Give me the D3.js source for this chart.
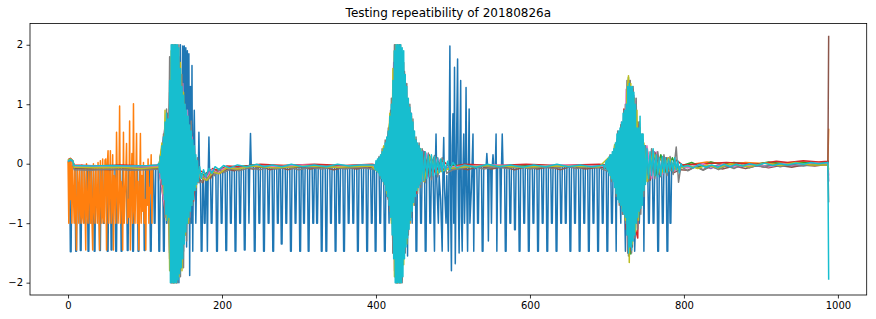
<!DOCTYPE html>
<html>
<head>
<meta charset="utf-8">
<script src="https://cdn.jsdelivr.net/npm/d3@7"></script>
<style>
  body { margin: 0; background: #fff; }
  svg { display: block; }
  text { font-family: "DejaVu Sans", sans-serif; }
</style>
</head>
<body>
<div class="repeat-plot"></div>
<script>
// values, [sample index, value]
const xTicks = [0, 200, 400, 600, 800, 1000];
const yTicks = [-2, -1, 0, 1, 2];
const chartTitle = "Testing repeatibility of 20180826a";

// run 1 (blue): dropouts to -1 / -1.5 almost everywhere
const blueRun = [
  [0,0.03],[2,0.02],[3,-1.48],[4,-1.48],[5,-0.04],
  [9,-0.05],[10,-1.47],[11,-1.47],[12,-0.05],[15,-0.05],[16,-1.46],[17,-1.46],[18,-0.05],
  [21,-0.05],[22,-1.0],[23,-1.0],[24,-0.05],[25,-0.05],[26,-1.47],[27,-1.47],[28,-0.05],
  [30,-0.05],[31,-1.0],[32,-1.0],[33,-0.05],[34,-1.47],[35,-1.47],[36,-0.05],
  [40,-0.05],[41,-1.46],[42,-1.46],[43,-0.05],[45,-0.05],[46,-1.0],[47,-1.0],[48,-0.05],
  [50,-0.05],[51,-1.47],[52,-1.47],[53,-0.05],[55,-0.05],[56,-1.45],[57,-1.45],[58,-0.05],
  [61,-0.05],[62,-1.47],[63,-1.47],[64,-0.05],[68,-0.05],[69,-1.47],[70,-1.47],[71,-0.05],
  [76,-0.05],[77,-1.46],[78,-1.46],[79,-0.05],[83,-0.05],[84,-1.47],[85,-1.47],[86,-0.05],
  [90,-0.05],[91,-1.47],[92,-1.47],[93,-0.05],[98,-0.05],[99,-1.46],[100,-1.46],[101,-0.05],
  [106,-0.05],[107,-1.47],[108,-1.47],[109,-0.05],[111,-0.05],[112,-1.0],[113,-1.0],[114,-0.05],
  [117,-0.05],[118,-1.47],[119,-1.47],[120,-0.05],[123,-0.05],[124,-1.47],[125,-1.47],
  [126,0.2],[127,0.5],[128,-1.0],[130,0.8],[132,-1.5],[134,1.6],[136,-1.7],[138,2.0],
  [140,-1.9],[142,1.8],[144,-2.0],[146,2.0],[148,-1.75],[149,1.98],[150,-1.47],[151,1.98],
  [152,-1.2],[153,1.95],[154,-1.4],[155,1.9],[156,-1.0],[157,1.85],[158,-1.88],[159,1.3],
  [160,-1.0],[161,1.65],[162,-1.47],[163,0.3],[164,0.9],[165,-0.2],[166,-1.0],[167,-0.25],
  [169,-0.3],[170,0.53],[171,-0.3],[172,-0.28],[173,-1.47],[174,-1.47],[175,-0.28],[176,-0.25],
  [177,-1.0],[178,-1.0],[179,-0.25],[180,-0.22],[181,-1.47],[182,-0.2],[183,0.45],[184,-0.2],
  [185,-0.18],[186,-1.0],[187,-1.0],[188,-0.18],
  [192,-0.15],[193,-1.47],[194,-1.47],[195,-0.15],[198,-0.13],[199,-1.0],[200,-1.0],[201,-0.12],
  [204,-0.1],[205,-1.46],[206,-1.46],[207,-0.1],[210,-0.09],[211,-1.0],[212,-1.0],[213,-0.09],
  [216,-0.08],[217,-1.47],[218,-1.47],[219,-0.08],[222,-0.07],[223,-1.0],[224,-1.0],[225,-0.07],
  [228,-0.06],[229,-1.45],[230,-1.45],[231,-0.06],[234,-0.05],[235,-1.0],[236,-0.05],[237,0.51],[238,-0.05],
  [241,-0.05],[242,-1.47],[243,-1.47],[244,-0.05],[247,-0.05],[248,-1.0],[249,-1.0],[250,-0.05],
  [253,-0.05],[254,-1.47],[255,-1.47],[256,-0.05],[259,-0.05],[260,-1.0],[261,-1.0],[262,-0.05],
  [265,-0.05],[266,-1.47],[267,-1.47],[268,-0.05],[271,-0.05],[272,-1.0],[273,-1.0],[274,-0.05],
  [276,-0.05],[277,-1.35],[278,-1.35],[279,-0.05],[282,-0.05],[283,-1.0],[284,-1.0],[285,-0.05],
  [288,-0.05],[289,-1.47],[290,-1.47],[291,-0.05],[294,-0.05],[295,-1.0],[296,-1.0],[297,-0.05],
  [300,-0.05],[301,-1.47],[302,-1.47],[303,-0.05],[305,-0.05],[306,-1.0],[307,-1.0],[308,-0.05],
  [311,-0.05],[312,-1.47],[313,-1.47],[314,-0.05],[317,-0.05],[318,-1.0],[319,-1.0],[320,-0.05],
  [322,-0.05],[323,-1.0],[324,-1.0],[325,-0.05],[328,-0.05],[329,-1.47],[330,-1.47],[331,-0.05],
  [334,-0.05],[335,-1.47],[336,-1.47],[337,-0.05],[340,-0.05],[341,-1.0],[342,-1.0],[343,-0.05],
  [346,-0.05],[347,-1.47],[348,-1.47],[349,-0.05],[351,-0.05],[352,-1.0],[353,-1.0],[354,-0.05],
  [357,-0.05],[358,-1.47],[359,-1.47],[360,-0.05],[363,-0.05],[364,-1.0],[365,-1.0],[366,-0.05],
  [369,-0.05],[370,-1.0],[371,-1.0],[372,-0.05],[375,-0.05],[376,-1.47],[377,-1.47],[378,-0.05],
  [381,-0.05],[382,-1.0],[383,-1.0],[384,-0.05],[387,-0.05],[388,-1.47],[389,-1.47],[390,-0.05],
  [393,-0.05],[394,-1.0],[395,-1.0],[396,-0.05],[398,-0.05],[399,-1.47],[400,-1.47],[401,-0.05],
  [404,-0.1],[405,-1.0],[406,-1.0],[407,-0.1],[410,-0.2],[411,-1.47],[412,-1.47],[413,-0.2],
  [416,-0.4],[417,-1.0],[418,0.5],[422,-0.8],[423,-1.47],[424,1.5],
  [428,1.8],[429,-1.0],[430,1.9],[434,1.5],[435,-1.47],[436,1.2],
  [440,0.9],[441,-1.55],[442,0.8],[446,0.5],[447,-1.0],[448,0.4],
  [451,0.2],[452,-1.47],[453,-1.47],[454,0.1],[457,-0.1],[458,-1.0],[459,-1.0],[460,-0.1],
  [463,-0.08],[464,-1.47],[465,-1.47],[466,-0.08],[469,-0.07],[470,-1.0],[471,-1.0],[472,-0.07],
  [474,-0.06],[476,-1.47],[477,-0.1],
  [478,0.5],[479,-0.3],[481,-1.0],[482,-0.2],[484,-0.6],[486,-1.47],[487,-0.1],[488,0.44],
  [489,-0.4],[491,-1.0],[492,-0.2],[494,-1.47],[495,0.2],[496,1.98],[497,-0.8],[498,-1.8],
  [499,0.3],[500,0.84],[501,-1.0],[502,1.62],[503,-1.68],[504,-0.3],[506,1.76],[507,-0.6],
  [508,-1.5],[509,0.2],[510,1.4],[511,-0.9],[512,-1.47],[513,-0.1],[514,0.5],[515,-1.0],
  [516,-0.3],[517,1.28],[518,-0.6],[519,-1.47],[520,-0.2],[521,0.92],[522,-1.0],[524,-0.4],
  [526,0.5],[527,-1.47],[528,-0.1],[530,-0.05],
  [531,-0.05],[532,-1.0],[533,-1.0],[534,-0.05],[537,-0.05],[538,-1.47],[539,-1.47],[540,-0.05],
  [543,-0.05],[544,0.17],[545,-0.05],[546,-1.3],[547,-0.05],
  [549,-0.05],[550,-1.0],[551,-0.05],[552,0.15],[553,-0.05],
  [555,-0.05],[556,0.5],[557,-1.47],[558,-0.05],
  [561,-0.05],[562,-1.0],[563,-0.05],[564,0.5],[565,-0.05],
  [567,-0.05],[568,-1.47],[569,-1.47],[570,-0.05],[573,-0.05],[574,-1.0],[575,-1.0],[576,-0.05],
  [579,-0.05],[580,-1.11],[581,-1.11],[582,-0.05],[585,-0.05],[586,-1.47],[587,-1.47],[588,-0.05],
  [591,-0.05],[592,-1.0],[593,-1.0],[594,-0.05],[597,-0.05],[598,-1.47],[599,-1.47],[600,-0.05],
  [603,-0.05],[604,-1.0],[605,-1.0],[606,-0.05],[609,-0.05],[610,-1.47],[611,-1.47],[612,-0.05],
  [615,-0.05],[616,-1.0],[617,-1.0],[618,-0.05],[621,-0.05],[622,-1.47],[623,-1.47],[624,-0.05],
  [627,-0.05],[628,-1.0],[629,-1.0],[630,-0.05],[633,-0.05],[634,-1.47],[635,-1.47],[636,-0.05],
  [639,-0.05],[640,-1.0],[641,-1.0],[642,-0.05],[645,-0.05],[646,-1.0],[647,-1.0],[648,-0.05],
  [651,-0.05],[652,-1.47],[653,-1.47],[654,-0.05],[657,-0.05],[658,-1.0],[659,-1.0],[660,-0.05],
  [663,-0.05],[664,-1.47],[665,-1.47],[666,-0.05],[669,-0.05],[670,-1.0],[671,-1.0],[672,-0.05],
  [675,-0.05],[676,-1.47],[677,-1.47],[678,-0.05],[681,-0.05],[682,-1.0],[683,-1.0],[684,-0.05],
  [687,-0.05],[688,-1.47],[689,-1.47],[690,-0.05],[693,-0.05],[694,-1.0],[695,-1.0],[696,-0.05],
  [699,-0.05],[700,-1.47],[701,-1.47],[702,-0.05],[705,-0.1],[706,-1.0],[707,-1.0],[708,-0.1],
  [711,-0.2],[712,-1.47],[713,0.3],[717,-0.4],[718,-1.0],[719,0.6],
  [723,-0.7],[724,-1.47],[725,1.0],[729,-1.3],[730,-1.0],[731,1.2],
  [735,1.1],[736,-1.47],[737,-1.0],[741,0.6],[742,-1.0],[743,-0.6],
  [747,0.4],[748,-1.47],[749,0.2],[753,-0.1],[754,-1.0],[755,-1.0],[756,-0.1],
  [759,-0.1],[760,-1.0],[761,-1.0],[762,-0.1],[765,-0.1],[766,-1.47],[767,-1.47],[768,-0.08],
  [771,-0.08],[772,-1.0],[773,-1.0],[774,-0.07],[777,-0.07],[778,-1.47],[779,-1.47],[780,-0.06],
  [781,-0.06],[782,-1.0],[783,-1.0],[784,-0.05],
  [790,-0.05],[850,-0.04],[900,-0.04],[950,-0.03],[985,-0.02],[988,0.0]
];

// run 2 (orange): noisy start, peaks up to ~1
const orangeRun = [
  [0,0.04],[1,-1.0],[2,0.05],[3,-0.6],[4,0.06],[5,-1.0],[6,-0.05],[7,-0.5],[8,-1.0],[9,-0.06],
  [10,-0.8],[11,-1.45],[12,-0.06],[13,-0.4],[14,-1.0],[15,-0.05],[16,-0.7],[17,-1.0],[18,-0.02],
  [19,-0.9],[20,-1.0],[21,-0.05],[22,-0.6],[23,-1.45],[24,0.0],[25,-0.8],[26,-1.0],[27,-0.05],
  [28,-0.5],[29,-1.0],[30,-0.04],[31,-0.9],[32,-1.45],[33,0.0],[34,-0.7],[35,-1.0],[36,-0.03],
  [37,-0.6],[38,-1.0],[39,0.02],[40,-0.8],[41,-1.45],[42,0.05],[43,-0.5],[44,-1.0],[45,0.08],
  [46,-0.9],[47,-1.0],[48,0.06],[49,0.08],[50,-1.45],[51,-0.02],[52,0.22],[53,-1.0],[54,-0.4],
  [55,0.22],[56,-1.0],[57,-0.7],[58,0.15],[59,-1.45],[60,-0.2],[61,-0.3],[62,-1.0],[63,0.53],
  [64,-0.4],[65,-1.0],[66,-0.6],[67,0.97],[68,-1.0],[69,-0.3],[70,-0.5],[71,-1.45],[72,0.53],
  [73,-1.0],[74,-0.6],[75,-0.2],[76,0.34],[77,-1.0],[78,-0.6],[79,-0.9],[80,0.72],[81,-1.45],
  [82,-0.5],[83,0.17],[84,-1.0],[85,1.01],[86,-0.8],[87,-1.0],[88,-0.3],[89,0.51],[90,-1.0],
  [91,-0.3],[92,-1.45],[93,-0.6],[94,0.51],[95,-1.0],[96,-0.2],[97,-0.8],[98,0.02],[99,-1.0],
  [100,-0.6],[101,-1.45],[102,-0.1],[103,-0.7],[104,0.08],[105,-1.0],[106,-0.4],[107,-0.5],
  [108,0.15],[109,-1.0],[110,-0.05],[112,-0.06],[120,-0.05],[126,0.3],[129,-0.7],[132,1.0],
  [135,-1.6],[138,1.8],[141,-1.8],[144,1.6],[147,-1.3],[151,0.8],[155,-0.7],[160,0.3],
  [166,-0.25],[175,-0.22],[185,-0.12],[200,-0.08],[230,-0.04],[280,-0.03],[340,-0.04],
  [398,-0.03],[405,-0.1],[410,0.2],[415,0.4],[419,-0.8],[423,1.5],[427,-1.9],[431,1.9],
  [435,-1.6],[440,1.0],[445,-0.8],[452,0.35],[460,-0.25],[475,-0.1],[520,-0.03],[600,-0.04],
  [690,-0.03],[700,-0.08],[705,0.12],[710,-0.25],[715,0.45],[720,-0.7],[724,0.9],[728,-1.3],
  [732,1.2],[736,-1.0],[741,0.6],[747,-0.4],[753,0.2],[760,-0.15],[768,0.1],[780,-0.12],
  [800,-0.03],[830,0.03],[860,-0.01],[880,0.02],[910,0.0],[950,0.03],[987,0.02],[988,0.59]
];

// runs 3-9: baseline plus the three bursts
const greenRun = [
  [0,0.06],[3,0.08],[6,0.04],[8,-0.04],[35,-0.05],[65,-0.03],[95,-0.05],[118,-0.03],
  [128,0.6],[131,-1.0],[134,1.8],[137,-2.0],[140,2.0],[143,-1.85],[146,1.4],[149,-1.4],
  [153,0.8],[157,-0.7],[162,0.3],[166,-0.3],
  [170,-0.15],[178,-0.2],[186,-0.1],[194,-0.13],[204,-0.05],[220,-0.06],[240,-0.02],[270,-0.04],
  [310,-0.02],[350,-0.04],[395,-0.02],
  [400,-0.03],[408,0.15],[412,-0.3],[415,0.4],
  [418,0.7],[421,-1.0],[424,1.9],[427,-2.0],[430,2.0],[433,-1.9],[436,1.5],[439,-1.3],
  [443,0.9],[447,-0.7],[452,0.4],[458,-0.3],
  [462,0.2],[467,-0.2],[475,0.1],[485,-0.12],[498,-0.03],
  [520,-0.02],[560,-0.04],[600,-0.02],[640,-0.04],[690,-0.02],
  [698,-0.03],[704,0.1],[708,-0.2],[712,0.35],
  [716,0.5],[719,-0.7],[722,0.85],[725,-1.0],[728,1.45],[731,-1.52],[734,1.2],[737,-1.1],
  [740,0.7],[744,-0.7],[748,0.3],[754,-0.25],
  [758,0.2],[763,-0.2],[770,0.15],[777,-0.15],[785,0.1],[792,-0.12],[798,-0.03],
  [810,0.02],[822,-0.05],[835,0.03],[850,-0.02],[865,0.02],[890,-0.02],[910,0.03],[930,0.0],
  [950,0.03],[970,0.0],[987,0.03],[988,0.02]
];

const redRun = [
  [0,0.07],[3,0.09],[6,0.05],[8,-0.02],[40,-0.04],[70,-0.02],[100,-0.04],[118,-0.02],
  [129,-0.9],[132,1.2],[135,-2.0],[138,1.95],[141,-2.0],[144,1.8],[147,-1.6],[148,1.1],
  [151,-1.2],[155,0.75],[158,-0.75],[160,0.6],[163,-0.63],[167,-0.1],
  [172,-0.12],[180,-0.18],[188,-0.08],[196,-0.12],[206,-0.04],[225,-0.05],[250,-0.01],
  [280,-0.03],[320,-0.01],[360,-0.03],[395,-0.01],
  [400,-0.02],[407,-0.2],[411,0.25],[415,-0.45],
  [419,-0.8],[422,1.2],[425,-1.9],[428,2.0],[431,-2.0],[434,1.8],[437,-1.5],[440,1.0],
  [444,-1.0],[448,0.55],[452,-0.5],
  [456,0.3],[462,-0.25],[469,0.15],[477,-0.15],[486,0.06],[496,-0.06],
  [515,-0.01],[555,-0.03],[595,-0.01],[635,-0.03],[690,-0.01],
  [698,-0.02],[703,-0.12],[708,0.2],[713,-0.4],
  [718,-0.6],[722,0.92],[725,-1.1],[728,1.2],[731,-1.45],[734,1.25],[737,-1.1],[740,-1.25],
  [742,0.6],[746,-0.55],[750,0.25],
  [754,-0.2],[760,0.22],[767,-0.18],[774,0.12],[782,-0.1],[790,0.06],[798,-0.02],
  [815,-0.01],[855,0.02],[895,-0.01],[920,0.04],[935,0.02],[955,0.05],[975,0.03],[987,0.04],[988,0.05]
];

const purpleRun = [
  [0,0.04],[3,0.06],[6,0.03],[8,-0.06],[30,-0.07],[60,-0.05],[90,-0.07],[118,-0.05],
  [127,0.7],[130,-0.95],[133,1.7],[136,-2.0],[139,2.0],[142,-1.9],[145,1.6],[148,-1.5],
  [152,0.9],[156,-0.8],[161,0.35],[165,-0.3],
  [170,-0.2],[177,-0.26],[184,-0.12],[192,-0.18],[200,-0.08],[215,-0.1],[235,-0.04],
  [260,-0.06],[300,-0.04],[340,-0.06],[380,-0.04],[396,-0.05],
  [400,-0.06],[406,0.12],[410,-0.25],[414,0.35],
  [417,0.6],[420,-0.95],[423,1.7],[426,-2.0],[429,1.95],[432,-2.0],[435,1.6],[438,-1.35],
  [442,0.95],[446,-0.75],[451,0.4],
  [456,-0.35],[461,0.22],[468,-0.22],[476,0.12],[485,-0.12],[495,-0.05],
  [510,-0.05],[550,-0.03],[590,-0.06],[630,-0.03],[690,-0.05],
  [698,-0.05],[705,0.12],[709,-0.25],[713,0.4],
  [717,0.55],[720,-0.75],[723,0.9],[726,-1.2],[729,1.35],[732,-1.4],[735,1.15],[738,-1.0],
  [741,0.65],[745,-0.6],
  [749,0.3],[755,-0.25],[762,0.2],[769,-0.18],[777,0.1],[786,-0.1],[796,-0.05],
  [805,-0.07],[820,-0.02],[835,-0.08],[845,-0.02],[860,-0.06],[885,-0.03],[905,-0.05],
  [925,-0.01],[945,-0.04],[965,-0.01],[987,-0.02],[988,-0.3]
];

const brownRun = [
  [0,0.05],[3,0.08],[6,0.05],[8,-0.08],[30,-0.09],[55,-0.1],[80,-0.08],[105,-0.09],[118,-0.08],
  [126,-0.8],[129,0.85],[132,-1.6],[135,2.0],[138,-2.0],[141,1.95],[144,-1.85],[147,1.3],
  [150,-1.3],[154,0.7],[158,-0.6],[163,0.3],[166,-0.35],
  [170,-0.25],[175,-0.32],[180,-0.15],[185,-0.25],[190,-0.12],[198,-0.16],[206,-0.09],
  [216,-0.12],[228,-0.06],[240,-0.09],[252,-0.05],[262,-0.1],[275,-0.06],[285,-0.1],
  [300,-0.05],[315,-0.09],[330,-0.05],[345,-0.1],[360,-0.06],[375,-0.09],[388,-0.05],[396,-0.07],
  [400,-0.08],[405,-0.15],[409,0.18],[413,-0.35],
  [416,-0.6],[419,0.9],[422,-1.5],[425,2.0],[428,-2.0],[431,2.0],[434,-1.95],[437,1.55],
  [440,-1.25],[444,0.9],[448,-0.6],
  [452,0.4],[457,-0.35],[463,0.2],[470,-0.22],[478,0.1],[488,-0.1],[498,-0.07],
  [505,-0.07],[520,-0.1],[535,-0.04],[550,-0.09],[565,-0.05],[580,-0.1],[595,-0.05],
  [610,-0.09],[625,-0.05],[640,-0.1],[655,-0.04],[672,-0.09],[690,-0.06],
  [698,-0.07],[703,-0.15],[707,0.15],[711,-0.35],
  [715,-0.6],[718,0.65],[721,-0.85],[724,1.0],[727,-1.5],[730,1.4],[733,-1.4],[736,1.1],
  [739,-1.0],[742,0.7],[746,-0.5],
  [750,0.3],[756,-0.28],[763,0.18],[770,-0.2],[778,0.1],[787,-0.15],[795,-0.1],
  [805,-0.11],[815,-0.05],[825,-0.1],[835,-0.04],[850,-0.09],[865,-0.04],[880,-0.08],
  [895,-0.03],[910,-0.07],[925,-0.03],[940,-0.06],[955,-0.02],[970,-0.04],[987,-0.01],[988,2.15]
];

const pinkRun = [
  [0,0.05],[3,0.07],[6,0.04],[8,-0.05],[30,-0.04],[60,-0.06],[90,-0.04],[118,-0.04],
  [128,-0.95],[131,0.8],[134,-2.0],[137,2.0],[140,-2.0],[143,1.9],[146,-1.7],[149,1.35],
  [152,-1.1],[155,0.9],[158,-0.9],[161,0.45],[165,-0.3],
  [171,-0.18],[179,-0.25],[187,-0.1],[195,-0.15],[205,-0.06],[222,-0.08],[242,-0.03],
  [270,-0.05],[305,-0.02],[345,-0.05],[385,-0.02],
  [398,-0.04],[404,0.1],[409,-0.25],[414,0.35],
  [418,-0.75],[421,1.1],[424,-1.8],[427,2.0],[430,-2.0],[433,1.9],[436,-1.6],[439,1.2],
  [442,-1.15],[446,0.85],[450,-0.5],
  [454,0.3],[459,-0.3],[465,0.18],[472,-0.2],[480,0.1],[490,-0.1],[500,-0.05],
  [515,-0.04],[555,-0.02],[595,-0.05],[635,-0.02],[690,-0.04],
  [698,-0.04],[704,-0.12],[708,0.2],[712,-0.4],
  [716,-0.6],[719,0.7],[722,-0.85],[725,1.25],[728,-1.5],[731,1.3],[734,-1.3],[737,1.05],
  [740,-0.9],[743,0.6],
  [747,-0.5],[752,0.3],[758,-0.25],[765,0.2],[772,-0.18],[780,0.1],[788,-0.12],[797,-0.05],
  [810,-0.06],[825,0.0],[840,-0.07],[850,-0.01],[870,-0.05],[890,-0.02],[910,-0.05],
  [930,0.0],[950,-0.03],[970,0.01],[987,0.0],[988,-0.2]
];

const grayRun = [
  [0,0.03],[3,0.06],[6,0.04],[8,-0.1],[30,-0.11],[55,-0.09],[80,-0.11],[105,-0.1],[118,-0.09],
  [120,0.15],[122,-0.35],[124,0.5],[126,-0.9],[128,0.92],[130,-1.0],[132,1.8],[134,-2.0],
  [136,2.0],[138,-2.0],[140,2.0],[142,-2.0],[144,2.0],[146,-1.9],[148,1.5],[150,-1.75],
  [152,1.0],[154,-1.3],[156,0.8],[158,-1.0],[160,0.72],[162,-0.7],[164,0.3],[166,-0.45],
  [168,0.1],[170,-0.32],
  [174,-0.3],[178,-0.18],[182,-0.28],[186,-0.14],[190,-0.2],[196,-0.1],[202,-0.15],
  [212,-0.08],[222,-0.12],[235,-0.07],[250,-0.1],[260,-0.06],[270,-0.09],[285,-0.06],
  [300,-0.1],[315,-0.06],[330,-0.09],[345,-0.05],[360,-0.09],[375,-0.06],[390,-0.08],
  [400,-0.1],[404,0.12],[406,-0.25],[408,0.25],[410,-0.35],[412,0.4],[414,-0.55],[416,0.6],
  [418,-0.8],[420,1.1],[422,-1.5],[424,2.0],[426,-2.0],[428,2.0],[430,-2.0],[432,2.0],
  [434,-2.0],[436,1.7],[438,-1.5],[440,1.35],[442,-1.2],[444,1.0],[446,-0.9],[448,0.75],
  [450,-0.7],[452,0.45],[454,-0.5],[456,0.35],[458,-0.4],[460,0.25],[464,-0.32],[468,0.18],
  [472,-0.27],[476,0.14],[480,-0.22],[486,0.1],[492,-0.16],[500,-0.1],
  [510,-0.08],[525,-0.04],[540,-0.09],[555,-0.05],[570,-0.08],[585,-0.04],[600,-0.09],
  [615,-0.05],[630,-0.08],[645,-0.04],[660,-0.08],[675,-0.05],[690,-0.07],
  [700,-0.12],[704,0.15],[706,-0.3],[710,0.3],[712,-0.55],[714,0.55],[716,-0.7],[718,0.65],
  [720,-0.85],[722,0.9],[724,-1.0],[726,1.4],[728,-1.55],[730,1.4],[732,-1.5],[734,1.3],
  [736,-1.25],[738,1.1],[740,-1.1],[742,0.7],[744,-0.85],[746,0.5],[748,-0.55],[750,0.3],
  [754,-0.3],[758,0.25],[762,-0.25],[766,0.2],[770,-0.22],[774,0.15],[778,-0.2],[782,0.12],
  [786,-0.18],[790,0.28],[793,-0.31],[796,-0.05],[800,-0.08],
  [805,-0.12],[815,-0.05],[825,-0.11],[835,-0.04],[845,-0.1],[855,-0.03],[865,-0.08],
  [875,-0.02],[885,-0.07],[895,-0.03],[905,-0.06],[915,-0.01],[925,-0.05],[940,-0.01],
  [955,-0.04],[970,0.0],[987,-0.02],[988,-0.65]
];

const oliveRun = [
  [0,0.06],[3,0.08],[6,0.05],[8,-0.06],[35,-0.07],[65,-0.06],[95,-0.08],[118,-0.06],
  [122,0.35],[124,-0.5],[126,0.9],[128,-0.95],[130,0.6],[132,-1.8],[134,1.9],[136,-2.0],
  [138,2.0],[140,-2.0],[142,1.9],[144,-1.9],[146,1.7],[148,-1.8],[150,1.2],[152,-1.2],
  [154,0.8],[156,-1.0],[158,0.5],[160,-0.7],[163,0.25],[166,-0.4],[170,-0.1],
  [172,-0.22],[180,-0.28],[188,-0.14],[196,-0.17],[206,-0.07],[220,-0.09],[240,-0.04],
  [270,-0.07],[310,-0.04],[350,-0.06],[394,-0.04],
  [404,-0.15],[410,0.3],[414,-0.5],[418,0.85],[420,-1.0],[422,1.6],[424,-1.9],[426,2.0],
  [428,-2.0],[430,1.9],[432,-2.0],[434,1.8],[436,-1.7],[438,1.3],[440,-1.35],[442,1.0],
  [444,-1.0],[446,0.8],[448,-0.7],[450,0.45],[454,-0.45],[458,0.25],[462,-0.3],[470,0.12],
  [480,-0.15],[495,-0.08],
  [510,-0.06],[550,-0.03],[590,-0.06],[630,-0.04],[690,-0.05],
  [702,0.1],[706,-0.25],[710,0.32],[714,-0.55],[716,0.5],[720,-0.75],[722,0.8],[724,-0.95],
  [726,1.2],[728,1.48],[729,-1.66],[731,1.35],[733,-1.35],[735,1.1],[737,-1.15],[739,0.9],
  [741,-0.95],[743,0.6],[745,-0.6],[748,0.35],[752,-0.3],[760,0.2],[770,-0.18],[780,0.1],
  [790,-0.1],
  [805,-0.03],[818,-0.08],[830,-0.02],[845,-0.07],[860,0.0],[885,-0.05],[905,0.01],
  [925,-0.03],[945,0.02],[965,-0.02],[987,-0.02],[988,-0.1]
];

// run 10 (cyan), drawn last, covers most of the bursts
const cyanBase = [
  [0,0.04],[3,0.07],[6,0.05],[8,-0.03],[30,-0.04],[55,-0.03],[80,-0.04],[105,-0.03],[116,-0.02],
  [171,-0.05],[173,-0.25],[176,-0.1],[179,-0.22],[183,-0.08],[187,-0.16],[191,-0.05],[196,-0.1],
  [202,-0.03],[210,-0.07],[220,-0.02],[232,-0.05],[245,-0.01],[255,-0.05],[265,-0.02],
  [278,-0.05],[290,-0.01],[305,-0.05],[320,-0.02],[335,-0.05],[350,-0.01],[365,-0.04],
  [380,-0.02],[396,-0.02],
  [515,-0.02],[530,-0.06],[545,-0.01],[560,-0.05],[575,-0.02],[590,-0.06],[605,-0.02],
  [620,-0.05],[635,-0.01],[650,-0.05],[665,-0.02],[680,-0.05],[692,-0.03],
  [805,-0.03],[812,-0.07],[820,-0.01],[828,-0.06],[836,-0.02],[844,-0.06],[852,-0.01],
  [860,-0.05],[868,-0.01],[876,-0.04],[885,0.0],[895,-0.03],[905,0.01],[915,-0.03],
  [925,0.0],[935,-0.02],[945,0.01],[955,-0.01],[965,0.02],[975,0.0],[987,0.02],[988,-1.95]
];
const cyanBurst1 = [
  [118,0.0],[119,-0.15],[120,0.12],[121,-0.25],[122,0.3],[123,-0.35],[124,0.45],[125,-0.6],
  [126,0.7],[127,-0.85],[128,0.85],[129,-0.95],[130,0.75],[131,-0.9],[132,1.4],[133,-2.0],
  [134,2.0],[135,-2.0],[136,2.0],[137,-2.0],[138,2.0],[139,-2.0],[140,2.0],[141,-2.0],
  [142,2.0],[143,-1.95],[144,1.95],[145,-1.85],[146,1.6],[147,-1.75],[148,1.3],[149,-1.6],
  [150,1.15],[151,-1.35],[152,1.0],[153,-1.15],[154,0.9],[155,-1.0],[156,0.8],[157,-0.9],
  [158,0.65],[159,-0.8],[160,0.55],[161,-0.7],[162,0.4],[163,-0.6],[164,0.3],[165,-0.45],
  [166,0.15],[167,-0.35],[168,0.05],[169,-0.3]
];
const cyanBurst2 = [
  [398,-0.02],[399,-0.1],[400,0.05],[401,-0.12],[402,0.08],[403,-0.15],[404,0.1],[405,-0.2],
  [406,0.15],[407,-0.25],[408,0.2],[409,-0.3],[410,0.25],[411,-0.35],[412,0.35],[413,-0.45],
  [414,0.45],[415,-0.55],[416,0.55],[417,-0.7],[418,0.8],[419,-0.9],[420,1.0],[421,-1.2],
  [422,1.4],[423,-1.6],[424,1.9],[425,-2.0],[426,2.0],[427,-2.0],[428,2.0],[429,-2.0],
  [430,2.0],[431,-2.0],[432,2.0],[433,-2.0],[434,1.95],[435,-1.9],[436,1.9],[437,-1.6],
  [438,1.5],[439,-1.4],[440,1.3],[441,-1.25],[442,1.1],[443,-1.1],[444,0.95],[445,-0.95],
  [446,0.85],[447,-0.8],[448,0.7],[449,-0.65],[450,0.55],[451,-0.55],[452,0.4],[453,-0.45],
  [454,0.35],[455,-0.4],[456,0.3],[457,-0.35],[458,0.25],[459,-0.3],[460,0.2],[462,-0.28],
  [464,0.2],[466,-0.25],[468,0.15],[470,-0.22],[472,0.15],[474,-0.2],[476,0.12],[478,-0.18],
  [480,0.1],[482,-0.15],[484,0.08],[486,-0.14],[488,0.06],[490,-0.12],[493,0.04],[496,-0.1],
  [500,0.02],[505,-0.07]
];
const cyanBurst3 = [
  [695,-0.02],[697,-0.08],[699,0.05],[700,-0.1],[701,0.08],[702,-0.15],[703,0.12],[704,-0.2],
  [705,0.15],[706,-0.25],[707,0.2],[708,-0.3],[709,0.25],[710,-0.4],[711,0.35],[712,-0.5],
  [713,0.5],[714,-0.6],[715,0.55],[716,-0.65],[717,0.6],[718,-0.7],[719,0.7],[720,-0.8],
  [721,0.85],[722,-0.85],[723,0.9],[724,-0.9],[725,1.0],[726,-1.2],[727,1.3],[728,-1.5],
  [729,1.35],[730,-1.4],[731,1.3],[732,-1.45],[733,1.3],[734,-1.3],[735,1.2],[736,-1.2],
  [737,1.0],[738,-1.0],[739,0.6],[740,-0.9],[741,0.6],[742,-0.8],[743,0.8],[744,-0.75],
  [745,0.5],[746,-0.7],[747,0.5],[748,-0.45],[749,0.3],[750,-0.35],[752,0.25],[754,-0.25],
  [756,0.2],[758,-0.2],[760,0.25],[762,-0.2],[764,0.15],[766,-0.22],[768,0.1],[770,-0.2],
  [772,0.12],[774,-0.15],[776,0.1],[778,-0.15],[780,0.08],[782,-0.12],[784,0.05],[786,-0.12],
  [788,0.1],[790,-0.1],[792,0.05],[794,-0.15],[796,0.0],[798,-0.05]
];
const cyanRun = cyanBase.concat(cyanBurst1, cyanBurst2, cyanBurst3);

const runs = [blueRun, orangeRun, greenRun, redRun, purpleRun, brownRun, pinkRun, grayRun, oliveRun, cyanRun];

function drawChart(){
    const width = 876;
    const height = 319;
    const left = 30, right = 866.7, top = 23.5, bottom = 295;

    const series = runs.map(r => r.slice().sort((a, b) => a[0] - b[0]));
    const allPts = series.flat();

    // matplotlib style 5% margins
    const xExt = d3.extent(allPts, d => d[0]);
    const yExt = d3.extent(allPts, d => d[1]);
    const xPad = (xExt[1] - xExt[0]) * 0.05;
    const yPad = (yExt[1] - yExt[0]) * 0.05;

    const x = d3.scaleLinear()
        .domain([xExt[0] - xPad, xExt[1] + xPad])
        .range([left, right]);
    const y = d3.scaleLinear()
        .domain([yExt[0] - yPad, yExt[1] + yPad])
        .range([bottom, top]);

    const svg = d3.select('.repeat-plot')
        .append('svg')
        .attr('width', width)
        .attr('height', height);

    svg.append('clipPath')
        .attr('id', 'plot-clip')
        .append('rect')
        .attr('x', left)
        .attr('y', top)
        .attr('width', right - left)
        .attr('height', bottom - top);

    const line = d3.line()
        .x(d => x(d[0]))
        .y(d => y(d[1]));

    svg.append('g')
        .attr('clip-path', 'url(#plot-clip)')
        .selectAll('path')
        .data(series)
        .enter()
        .append('path')
        .attr('d', line)
        .attr('fill', 'none')
        .attr('stroke', (d, i) => d3.schemeCategory10[i % 10])
        .attr('stroke-width', 1.5)
        .attr('stroke-linejoin', 'round');

    // axes, plain integer labels with a real minus sign
    const fmt = d3.format('d');
    const xAxis = svg.append('g')
        .attr('transform', `translate(0,${bottom})`)
        .call(d3.axisBottom(x).tickValues(xTicks).tickFormat(fmt).tickSize(3.5).tickPadding(3.5));
    const yAxis = svg.append('g')
        .attr('transform', `translate(${left},0)`)
        .call(d3.axisLeft(y).tickValues(yTicks).tickFormat(fmt).tickSize(3.5).tickPadding(3.5));

    [xAxis, yAxis].forEach(ax => {
        ax.select('.domain').remove();
        ax.selectAll('line').attr('stroke', '#000').attr('stroke-width', 0.8);
        ax.selectAll('text')
            .attr('font-size', 10)
            .attr('fill', '#000')
            .style('font-family', '"DejaVu Sans", sans-serif');
    });

    // frame
    svg.append('rect')
        .attr('x', left)
        .attr('y', top)
        .attr('width', right - left)
        .attr('height', bottom - top)
        .attr('fill', 'none')
        .attr('stroke', '#000')
        .attr('stroke-width', 0.8);

    svg.append('text')
        .text(chartTitle)
        .attr('x', (left + right) / 2)
        .attr('y', 17)
        .attr('text-anchor', 'middle')
        .attr('font-size', 12)
        .attr('fill', '#000');
}

drawChart();
</script>
</body>
</html>
